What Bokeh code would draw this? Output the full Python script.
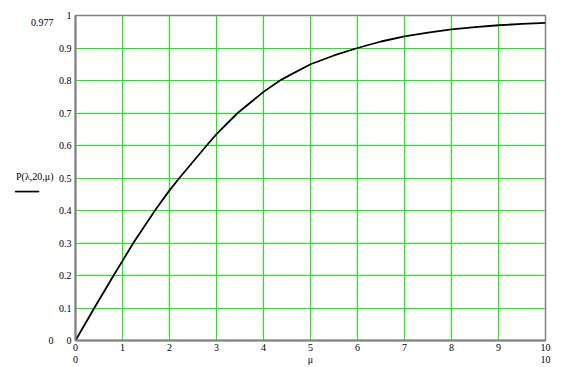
from bokeh.plotting import figure
from bokeh.models import Range1d, FixedTicker, LinearAxis
from bokeh.embed import file_html
from bokeh.resources import INLINE

# data
mu = [0, 0.4, 0.81, 1, 1.23, 1.69, 2, 2.21, 2.79, 3, 3.45, 4, 4.35, 4.5, 5, 5.5, 6,
      6.5, 7, 7.5, 8, 8.5, 9, 9.5, 10]
P = [0, 0.1, 0.2, 0.245, 0.3, 0.4, 0.462, 0.5, 0.6, 0.635, 0.7, 0.765, 0.8, 0.812, 0.85,
     0.877, 0.9, 0.92, 0.936, 0.947, 0.957, 0.964, 0.97, 0.974, 0.977]
x_ticks = [0, 1, 2, 3, 4, 5, 6, 7, 8, 9, 10]
y_ticks = [0, 0.1, 0.2, 0.3, 0.4, 0.5, 0.6, 0.7, 0.8, 0.9, 1]
y_tick_labels = ["0", "0.1", "0.2", "0.3", "0.4", "0.5", "0.6", "0.7", "0.8", "0.9", "1"]
y_label = "P(\u03bb,20,\u03bc)"
x_label = "\u03bc"

FONT = "Liberation Serif"
GRID = "#00ff00"
FRAME = "#808080"

p = figure(width=568, height=367, output_backend="svg", toolbar_location=None,
           x_range=Range1d(0, 10), y_range=Range1d(0, 1),
           min_border_left=75, min_border_right=23, min_border_top=15, min_border_bottom=27)
p.background_fill_color = "white"
p.border_fill_color = "white"
p.outline_line_color = FRAME
p.outline_line_width = 1.5

p.xaxis.ticker = FixedTicker(ticks=x_ticks)
p.yaxis.ticker = FixedTicker(ticks=y_ticks)
p.yaxis.major_label_overrides = {t: s for t, s in zip(y_ticks, y_tick_labels)}


def style_axis(ax, line=True):
    ax.major_tick_out = 0
    ax.major_tick_in = 0
    ax.minor_tick_out = 0
    ax.minor_tick_in = 0
    ax.axis_line_color = FRAME if line else None
    ax.axis_line_width = 2
    ax.major_label_text_font = FONT
    ax.major_label_text_font_size = "10px"
    ax.major_label_text_color = "black"


for ax in (p.xaxis[0], p.yaxis[0]):
    style_axis(ax)
p.yaxis.major_label_standoff = 4
p.xaxis.major_label_standoff = 3

p.xgrid.ticker = FixedTicker(ticks=x_ticks)
p.ygrid.ticker = FixedTicker(ticks=y_ticks)
for g in (p.xgrid, p.ygrid):
    g.grid_line_color = GRID
    g.grid_line_width = 1
    g.grid_line_alpha = 1

r = p.line(mu, P, line_color="black", line_width=1.8)

# Mathcad-style outer labels on the left: y limits, trace name and its line sample
ymin, ymax = min(P), P[-1]
name_pos = 0.504      # vertical place of the trace name
sample_pos = 0.459    # vertical place of the line sample under it
sample = "\u2501\u2501\u2501\u2501" + "\u00a0" * 6
yax2 = LinearAxis(ticker=FixedTicker(ticks=[ymin, sample_pos, name_pos, ymax]),
                  major_label_overrides={ymin: f"{ymin:g}", ymax: f"{ymax:g}",
                                         name_pos: y_label, sample_pos: sample})
style_axis(yax2, line=False)
yax2.major_label_standoff = 2
p.add_layout(yax2, "left")

# x limits and the axis name below
xmid = (mu[0] + mu[-1]) / 2
xax2 = LinearAxis(ticker=FixedTicker(ticks=[mu[0], xmid, mu[-1]]),
                  major_label_overrides={mu[0]: f"{mu[0]:g}", xmid: x_label, mu[-1]: f"{mu[-1]:g}"})
style_axis(xax2, line=False)
xax2.major_label_standoff = 0
p.add_layout(xax2, "below")

open("out.html", "w").write(file_html(p, INLINE))
